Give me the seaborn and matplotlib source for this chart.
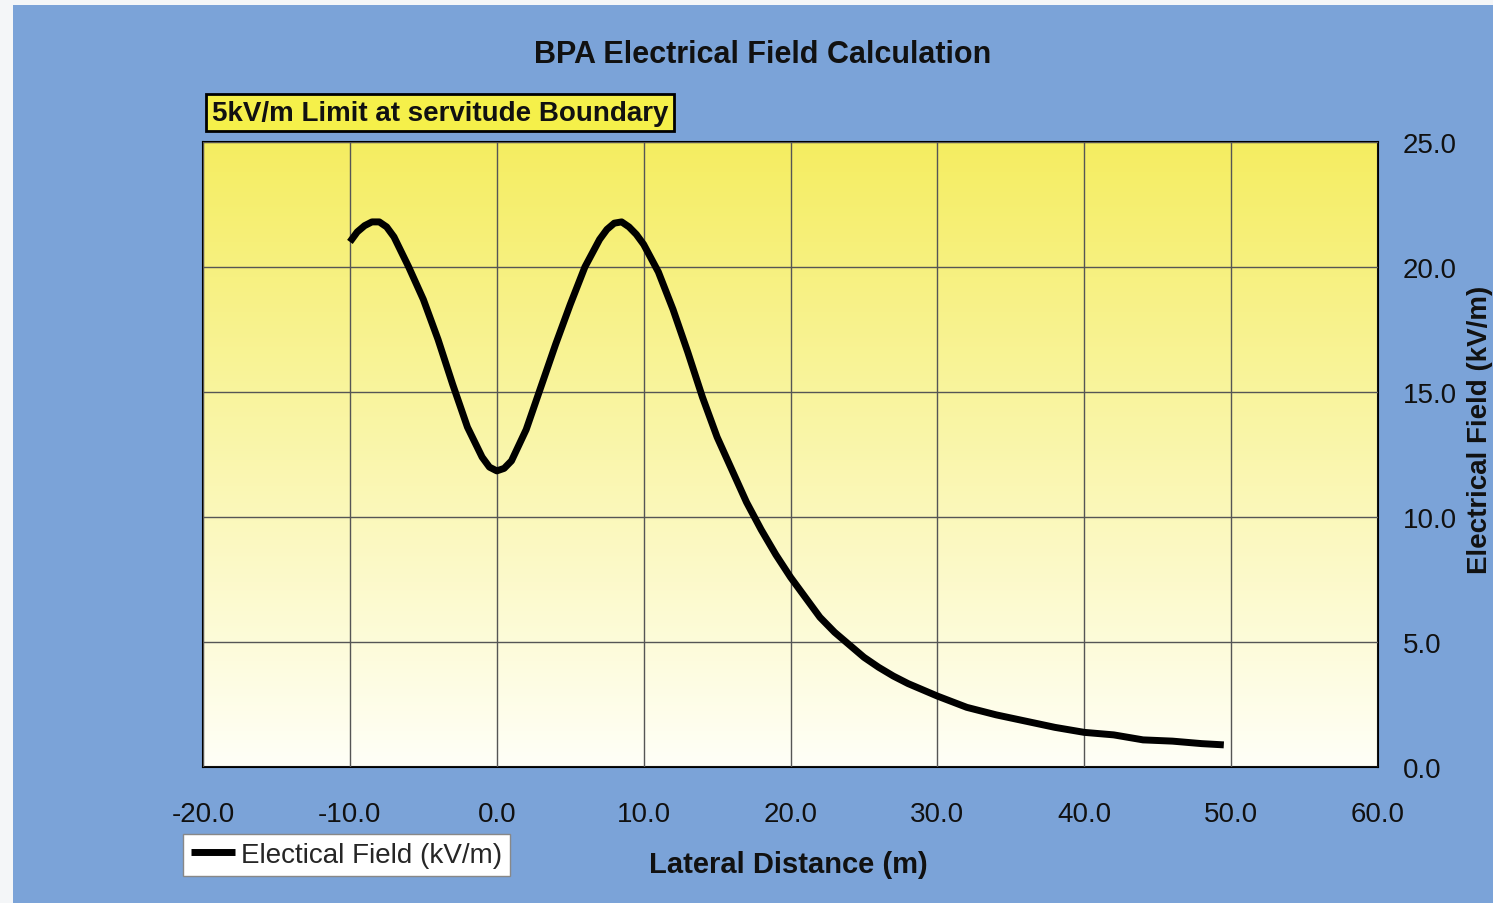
import numpy as np
import pandas as pd
import matplotlib.pyplot as plt
import seaborn as sns
from matplotlib.patches import Rectangle

# lateral distance (m) and field strength (kV/m)
distance = [-10, -9.5, -9, -8.5, -8, -7.5, -7, -6, -5, -4, -3, -2, -1, -0.5, 0, 0.5,
            1, 2, 3, 4, 5, 6, 7, 7.5, 8, 8.5, 9, 9.5, 10, 11, 12, 13, 14, 15, 16,
            17, 18, 19, 20, 21, 22, 23, 24, 25, 26, 27, 28, 29, 30, 32, 34, 36,
            38, 40, 42, 44, 46, 48, 49.5]
field = [21.0, 21.4, 21.65, 21.8, 21.8, 21.6, 21.2, 20.0, 18.7, 17.1, 15.3, 13.6,
         12.4, 12.0, 11.85, 11.95, 12.25, 13.5, 15.2, 16.9, 18.5, 20.0, 21.1, 21.5,
         21.75, 21.8, 21.6, 21.3, 20.9, 19.8, 18.3, 16.6, 14.8, 13.2, 11.9, 10.6,
         9.5, 8.5, 7.6, 6.8, 6.0, 5.4, 4.9, 4.4, 4.0, 3.65, 3.35, 3.1, 2.85, 2.4,
         2.1, 1.85, 1.6, 1.4, 1.3, 1.1, 1.05, 0.95, 0.9]
x_ticks = [-20, -10, 0, 10, 20, 30, 40, 50, 60]
y_ticks = [0, 5, 10, 15, 20, 25]

df = pd.DataFrame({"dist": distance, "field": field})

sns.set_style("white")
plt.rcParams["font.family"] = ["Liberation Sans", "DejaVu Sans"]

fig = plt.figure(figsize=(14.93, 9.04), dpi=100, facecolor="#f4f6f8")
# blue chart area, with a thin light margin at top and left like the scan
fig.patches.append(Rectangle((13 / 1493, 0), 1, 1 - 6 / 904, transform=fig.transFigure,
                             fc="#7ba3d8", ec="none", zorder=-1))
ax = fig.add_axes([0.136, 0.150, 0.787, 0.692])

# yellow-to-white background gradient inside the plot area
grad = np.linspace(0, 1, 256).reshape(-1, 1)
top = np.array([0.96, 0.93, 0.38])
bot = np.array([1.0, 1.0, 0.97])
img = np.clip(top * (1 - grad[..., None]) + bot * grad[..., None], 0, 1)
ax.imshow(img, extent=[0, 1, 0, 1], transform=ax.transAxes, aspect="auto", zorder=0)

sns.lineplot(data=df, x="dist", y="field", ax=ax, color="black", lw=5,
             label="Electical Field (kV/m)", zorder=3)
for ln in ax.lines:
    ln.set_solid_joinstyle("round"); ln.set_solid_capstyle("butt")

ax.set_xlim(-20, 60)
ax.set_ylim(0, 25)
ax.set_xticks(x_ticks)
ax.set_yticks(y_ticks)
ax.set_xticklabels([f"{v:.1f}" for v in x_ticks])
ax.set_yticklabels([f"{v:.1f}" for v in y_ticks])
ax.grid(True, color="#555555", lw=1.0, zorder=1)
ax.set_axisbelow(False)
for s in ax.spines.values():
    s.set_color("black"); s.set_linewidth(1.5); s.set_visible(True)

ax.yaxis.tick_right()
ax.tick_params(axis="x", labelsize=20, pad=24, length=0)
ax.tick_params(axis="y", labelsize=20, pad=18, length=0, right=True)
for t in ax.get_xticklabels() + ax.get_yticklabels():
    t.set_color("#111111")

ax.set_xlabel("")
ax.set_ylabel("")
fig.text(0.991, 0.524, "Electrical Field (kV/m)", fontsize=20, fontweight="bold",
         rotation=90, ha="center", va="center", color="#111111")
fig.text(0.528, 0.043, "Lateral Distance (m)", fontsize=21, fontweight="bold",
         ha="center", va="center", color="#111111")
fig.text(0.511, 0.939, "BPA Electrical Field Calculation", fontsize=22,
         fontweight="bold", ha="center", va="center", color="#111111")
fig.text(0.142, 0.874, "5kV/m Limit at servitude Boundary", fontsize=20,
         fontweight="bold", ha="left", va="center", color="#111111",
         bbox=dict(boxstyle="square,pad=0.2", fc="#f5f04a", ec="black", lw=2))

leg = ax.legend(loc="center left", bbox_to_anchor=(0.113, 0.053),
                bbox_transform=fig.transFigure, fontsize=20, frameon=True,
                fancybox=False, handlelength=1.6, handletextpad=0.2,
                borderpad=0.3)
leg.get_frame().set_edgecolor("#888888")
leg.get_frame().set_facecolor("white")
leg.get_frame().set_alpha(1)

fig.savefig("out.png", dpi=100, facecolor=fig.get_facecolor())
